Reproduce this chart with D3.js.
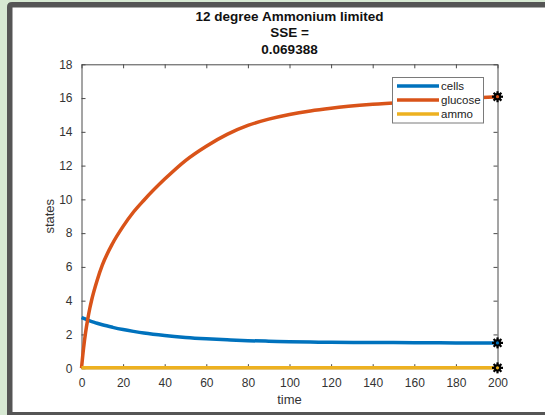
<!DOCTYPE html>
<html>
<head>
<meta charset="utf-8">
<script src="https://cdn.jsdelivr.net/npm/d3@7"></script>
<style>
  html, body { margin: 0; padding: 0; background: #fff; }
  svg { display: block; }
  text { font-family: "Liberation Sans", Arial, Helvetica, sans-serif; }
</style>
</head>
<body>
<div id="chart"></div>
<script>
// ---- data ----
const titleLines = ["12 degree Ammonium limited", "SSE =", "0.069388"];
const time    = [0, 1, 2, 3, 4, 5, 7.5, 10, 15, 20, 25, 30, 40, 50, 60, 70, 80, 90, 100, 110, 120, 140, 160, 180, 200];
const cells   = [3.0, 2.95, 2.9, 2.85, 2.8, 2.76, 2.66, 2.57, 2.42, 2.29, 2.18, 2.08, 1.93, 1.82, 1.74, 1.68, 1.63, 1.6, 1.57, 1.55, 1.53, 1.52, 1.51, 1.5, 1.5];
const glucose = [0, 1.2, 2.15, 2.9, 3.55, 4.1, 5.2, 6.1, 7.4, 8.4, 9.25, 9.95, 11.2, 12.3, 13.15, 13.85, 14.38, 14.75, 15.03, 15.24, 15.4, 15.63, 15.8, 15.96, 16.08];
const ammo    = [0.02, 0.02, 0.02, 0.02, 0.02, 0.02, 0.02, 0.02, 0.02, 0.02, 0.02, 0.02, 0.02, 0.02, 0.02, 0.02, 0.02, 0.02, 0.02, 0.02, 0.02, 0.02, 0.02, 0.02, 0.02];
const seriesNames  = ["cells", "glucose", "ammo"];
const seriesColors = ["#0072BD", "#D95319", "#EDB120"];
const xTicks = [0, 20, 40, 60, 80, 100, 120, 140, 160, 180, 200];
const yTicks = [0, 2, 4, 6, 8, 10, 12, 14, 16, 18];
const xLabel = "time";
const yLabel = "states";

(function () {
const W = 545, H = 415;
const svg = d3.select("#chart").append("svg").attr("width", W).attr("height", H);

// frame
svg.append("rect").attr("x", 0).attr("y", 0).attr("width", W).attr("height", H).attr("fill", "#d7e9d3");
svg.append("path")
  .attr("d", `M7,7 Q7,2 12,2 L${W},2 L${W},${H} L7,${H} Z`)
  .attr("fill", "#555555");
svg.append("rect").attr("x", 12.5).attr("y", 7.5).attr("width", W - 12.5).attr("height", 412 - 7.5).attr("fill", "#ffffff");

const pL = 81.5, pR = 497.5, pT = 64.3, pB = 368.2;
const x = d3.scaleLinear().domain([0, 200]).range([pL, pR]);
const y = d3.scaleLinear().domain([0, 18]).range([pB, pT]);

const axisColor = "#4a4a4a";
const tickColor = "#333333";

const gx = svg.append("g").attr("transform", `translate(0,${pB})`)
  .call(d3.axisBottom(x).tickValues(xTicks).tickSizeInner(-4).tickSizeOuter(0).tickPadding(10));
const gxt = svg.append("g").attr("transform", `translate(0,${pT})`)
  .call(d3.axisTop(x).tickValues(xTicks).tickSizeInner(-4).tickSizeOuter(0).tickFormat(""));
const gy = svg.append("g").attr("transform", `translate(${pL},0)`)
  .call(d3.axisLeft(y).tickValues(yTicks).tickSizeInner(-4).tickSizeOuter(0).tickPadding(9));
const gyr = svg.append("g").attr("transform", `translate(${pR},0)`)
  .call(d3.axisRight(y).tickValues(yTicks).tickSizeInner(-4).tickSizeOuter(0).tickFormat(""));
[gx, gxt, gy, gyr].forEach(g => {
  g.select(".domain").attr("stroke", axisColor).attr("stroke-width", 1);
  g.selectAll(".tick line").attr("stroke", axisColor).attr("stroke-width", 1);
  g.selectAll(".tick text").attr("fill", tickColor).style("font-size", "12px")
    .style("font-family", '"Liberation Sans", Arial, sans-serif');
});

svg.append("text").attr("x", (pL + pR) / 2).attr("y", 404).attr("text-anchor", "middle")
  .attr("fill", "#333").style("font-size", "13px").text(xLabel);
svg.append("text").attr("transform", `translate(54,${(pT + pB) / 2}) rotate(-90)`)
  .attr("text-anchor", "middle").attr("fill", "#333").style("font-size", "13px").text(yLabel);

titleLines.forEach((t, i) => {
  svg.append("text").attr("x", (pL + pR) / 2).attr("y", 20.5 + i * 16.8)
    .attr("text-anchor", "middle").attr("fill", "#111").style("font-size", "13.5px")
    .style("font-weight", "bold").text(t);
});

const allSeries = [cells, glucose, ammo];
const line = d3.line().x(d => x(d[0])).y(d => y(d[1])).curve(d3.curveMonotoneX);
allSeries.forEach((vals, i) => {
  const pts = time.map((t, j) => [t, vals[j]]);
  svg.append("path").datum(pts).attr("d", line).attr("fill", "none")
    .attr("stroke", seriesColors[i]).attr("stroke-width", 3.5)
    .attr("stroke-linejoin", "round").attr("stroke-linecap", "butt");
});

allSeries.forEach((vals, i) => {
  const last = time.length - 1;
  const cx = x(time[last]), cy = y(vals[last]);
  const g = svg.append("g").attr("transform", `translate(${cx},${cy})`);
  for (let k = 0; k < 4; k++) {
    const a = k * Math.PI / 4;
    g.append("line").attr("x1", -5.5 * Math.cos(a)).attr("y1", -5.5 * Math.sin(a))
      .attr("x2", 5.5 * Math.cos(a)).attr("y2", 5.5 * Math.sin(a))
      .attr("stroke", "#000").attr("stroke-width", 2.2);
  }
  g.append("circle").attr("r", 3.6).attr("fill", "#000");
  g.append("circle").attr("r", 1.6).attr("fill", seriesColors[i]);
});

const lg = svg.append("g");
lg.append("rect").attr("x", 392.5).attr("y", 77.5).attr("width", 91).attr("height", 45.5)
  .attr("fill", "#fff").attr("stroke", "#7a7a7a").attr("stroke-width", 1);
seriesNames.forEach((name, i) => {
  const yy = 86 + i * 14;
  lg.append("line").attr("x1", 397).attr("x2", 439).attr("y1", yy).attr("y2", yy)
    .attr("stroke", seriesColors[i]).attr("stroke-width", 3.5);
  lg.append("text").attr("x", 441).attr("y", yy + 4).attr("fill", "#222")
    .style("font-size", "11.5px").text(name);
});
})();
</script>
</body>
</html>
